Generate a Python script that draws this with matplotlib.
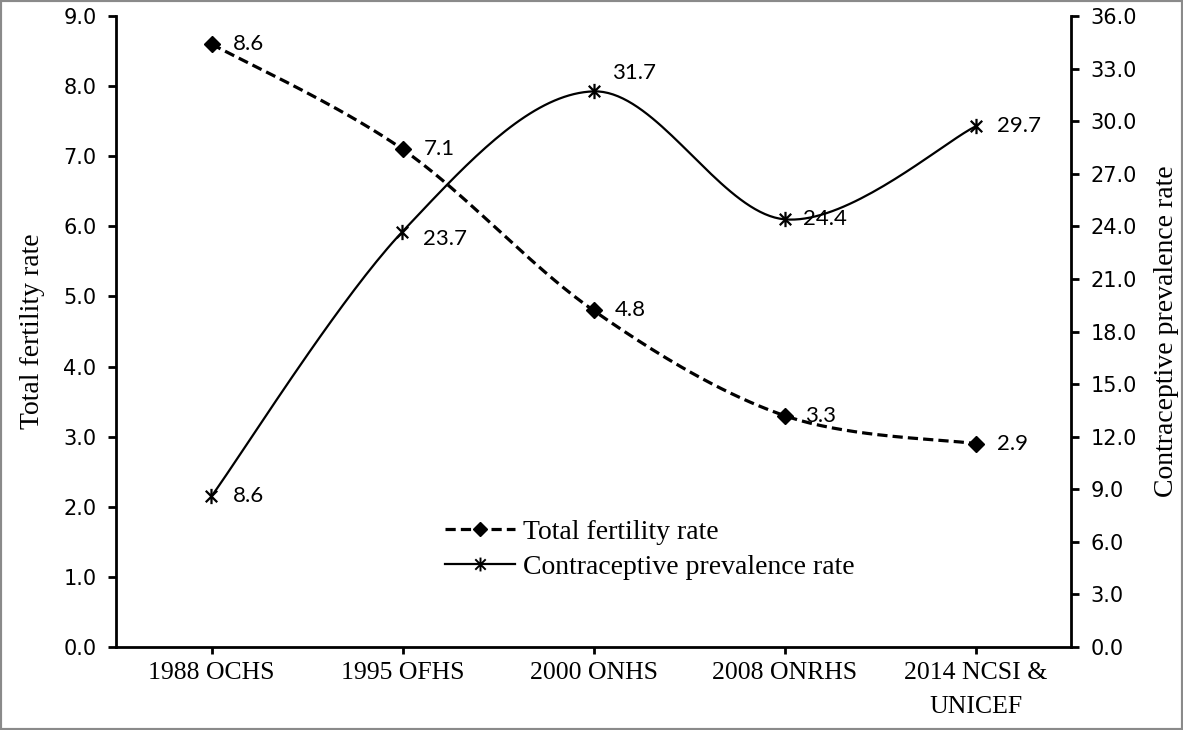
import numpy as np
import matplotlib
matplotlib.use("Agg")
import matplotlib.pyplot as plt
from matplotlib.path import Path
from matplotlib.patches import Rectangle
from matplotlib.lines import Line2D

categories = ["1988 OCHS", "1995 OFHS", "2000 ONHS", "2008 ONRHS", "2014 NCSI &\nUNICEF"]
tfr = [8.6, 7.1, 4.8, 3.3, 2.9]
cpr = [8.6, 23.7, 31.7, 24.4, 29.7]
left_ticks = [0, 1, 2, 3, 4, 5, 6, 7, 8, 9]
right_ticks = [0, 3, 6, 9, 12, 15, 18, 21, 24, 27, 30, 33, 36]

# label offsets in pixels (style only)
tfr_off = [(21, 0), (21, 0), (21, 0), (21, 0), (21, 0)]
cpr_off = [(21, 0), (21, -7), (19, 18), (19, 0), (21, 0)]

SERIF = "Liberation Serif"
SANS = "DejaVu Sans"
LAB = "Lato"


def smooth(xs, ys, n=40):
    xs = np.asarray(xs, float)
    ys = np.asarray(ys, float)
    P = np.column_stack([xs, ys])
    Pe = np.vstack([P[0], P, P[-1]])
    out = []
    for i in range(len(P) - 1):
        p0, p1, p2, p3 = Pe[i], Pe[i + 1], Pe[i + 2], Pe[i + 3]
        c1 = p1 + (p2 - p0) / 6.0
        c2 = p2 - (p3 - p1) / 6.0
        t = np.linspace(0, 1, n)[:, None]
        seg = ((1 - t) ** 3) * p1 + 3 * ((1 - t) ** 2) * t * c1 + 3 * (1 - t) * t ** 2 * c2 + t ** 3 * p2
        out.append(seg if i == 0 else seg[1:])
    s = np.vstack(out)
    return s[:, 0], s[:, 1]


star = Path([(0, -1), (0, 1), (-0.75, -0.75), (0.75, 0.75), (-0.75, 0.75), (0.75, -0.75)],
            [Path.MOVETO, Path.LINETO, Path.MOVETO, Path.LINETO, Path.MOVETO, Path.LINETO])

fig = plt.figure(figsize=(11.83, 7.30), dpi=100)
ax = fig.add_axes([116 / 1183, 83 / 730, (1071 - 116) / 1183, (647 - 16) / 730])
ax2 = ax.twinx()

x = np.arange(len(categories))

sx, sy = smooth(x, tfr)
ax.plot(sx, sy, color="black", lw=2.3, dashes=(3.2, 1.6), zorder=3)
ax.plot(x, tfr, ls="none", marker="D", ms=8, color="black", zorder=4)

cx, cy = smooth(x, cpr)
ax2.plot(cx, cy, color="black", lw=1.6, zorder=3)
ax2.plot(x, cpr, ls="none", marker=star, ms=11, mew=1.6, color="black", zorder=4)

for xi, v, (dx, dy) in zip(x, tfr, tfr_off):
    ax.annotate(f"{v:.1f}", (xi, v), xytext=(dx, dy), textcoords="offset pixels",
                ha="left", va="center", fontsize=16, family=LAB)
for xi, v, (dx, dy) in zip(x, cpr, cpr_off):
    ax2.annotate(f"{v:.1f}", (xi, v), xytext=(dx, dy), textcoords="offset pixels",
                 ha="left", va="center", fontsize=16, family=LAB)

ax.set_xlim(-0.5, 4.5)
ax.set_ylim(0, 9)
ax2.set_ylim(0, 36)
ax.set_xticks(x)
ax.set_xticklabels(categories, family=SERIF, fontsize=18.5, linespacing=1.7)
ax.set_yticks(left_ticks)
ax.set_yticklabels([f"{t:.1f}" for t in left_ticks], family=SANS, fontsize=15)
ax2.set_yticks(right_ticks)
ax2.set_yticklabels([f"{t:.1f}" for t in right_ticks], family=SANS, fontsize=15)

for a in (ax, ax2):
    for s in a.spines.values():
        s.set_linewidth(2.0)
    a.spines["top"].set_visible(False)
ax.spines["right"].set_visible(False)
ax2.spines["left"].set_visible(False)
ax2.spines["bottom"].set_visible(False)

ax.tick_params(axis="y", direction="out", length=6, width=2, pad=8)
ax.tick_params(axis="x", direction="out", length=5, width=2, pad=6)
ax2.tick_params(axis="y", direction="out", length=6, width=2, pad=8)

ax.set_ylabel("Total fertility rate", family=SERIF, fontsize=20, labelpad=13)
ax2.set_ylabel("Contraceptive prevalence rate", family=SERIF, fontsize=20, labelpad=12)

h1 = Line2D([], [], color="black", lw=2.3, dashes=(3.2, 1.6), marker="D", ms=7)
h2 = Line2D([], [], color="black", lw=1.6, marker=star, ms=10, mew=1.4)
leg = ax.legend([h1, h2], ["Total fertility rate", "Contraceptive prevalence rate"],
                loc="upper left", bbox_to_anchor=((434 - 116) / 955, (647 - 508) / 631),
                frameon=False, prop={"family": SERIF, "size": 20},
                handlelength=2.5, handletextpad=0.3, labelspacing=0.35, borderaxespad=0)

fig.add_artist(Rectangle((0, 0), 1, 1, transform=fig.transFigure, fill=False,
                         edgecolor="#8a8a8a", lw=3))

fig.savefig("out.png", dpi=100)
